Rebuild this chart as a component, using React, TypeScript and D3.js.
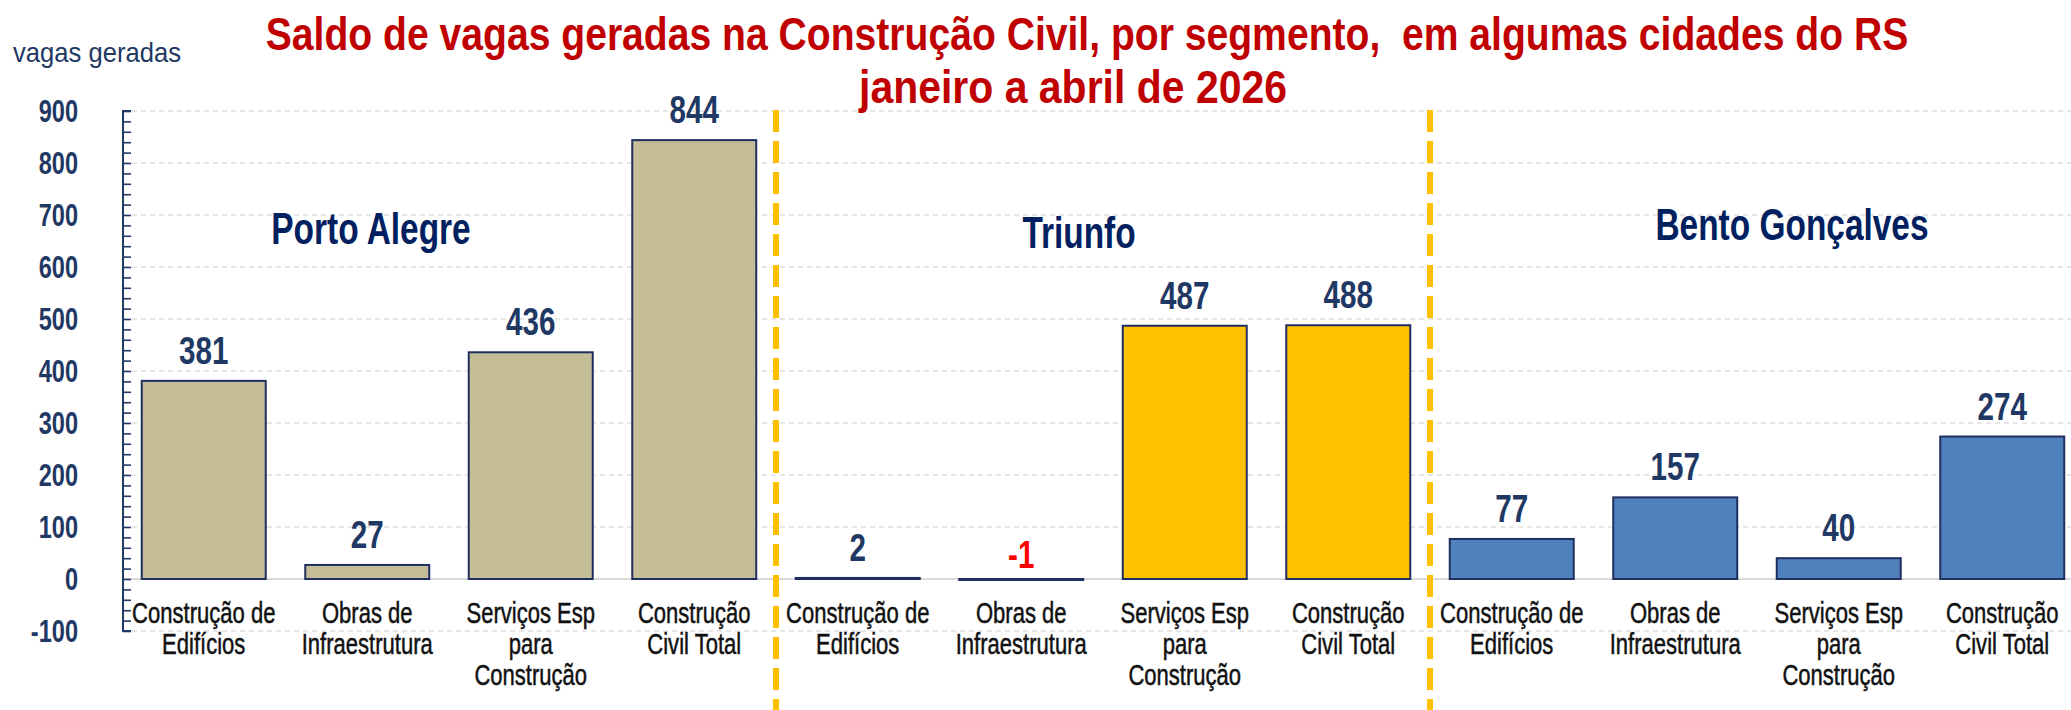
import { useRef, useEffect } from 'react';
import * as d3 from 'd3';

// cities and their segments
const cities = ['Porto Alegre', 'Triunfo', 'Bento Gonçalves'];
const segments = [
  'Construção de|Edifícios',
  'Obras de|Infraestrutura',
  'Serviços Esp|para|Construção',
  'Construção|Civil Total',
];

// saldo de vagas per city (same order as segments)
const portoAlegre = [381, 27, 436, 844];
const triunfo = [2, -1, 487, 488];
const bentoGoncalves = [77, 157, 40, 274];

const cityColors = ['#C4BD97', '#FFC000', '#4F81BD'];
const yTicks = [-100, 0, 100, 200, 300, 400, 500, 600, 700, 800, 900];

const titleLine1 = 'Saldo de vagas geradas na Construção Civil, por segmento,  em algumas cidades do RS';
const titleLine2 = 'janeiro a abril de 2026';
const yLabel = 'vagas geradas';

// Arial-like font squeezed horizontally to look like Arial Narrow
const FONT = "'Liberation Sans', Arial, sans-serif";
const SQUEEZE = 0.76;

function App() {
  const svgRef = useRef<SVGSVGElement>(null);

  useEffect(() => {
    const width = 2071;
    const height = 710;
    const navy = '#1F3864';

    const series = [portoAlegre, triunfo, bentoGoncalves];
    const rows = series.flatMap((vals, ci) =>
      vals.map((v, si) => ({ key: `${ci}-${si}`, city: ci, seg: si, value: v }))
    );

    const svg = d3.select(svgRef.current)
      .attr('width', width)
      .attr('height', height)
      .attr('viewBox', `0 0 ${width} ${height}`);

    //Clear previous content
    svg.selectAll('*').remove();

    svg.append('rect').attr('width', width).attr('height', height).attr('fill', '#fff');

    const x = d3.scaleBand<string>()
      .domain(rows.map(d => d.key))
      .range([122, 2084])
      .paddingInner(0.2416)
      .paddingOuter(0.1208);

    const y = d3.scaleLinear().domain([-100, 900]).range([631, 111]);
    const axisX = 123;
    const cx = (key: string) => x(key)! + x.bandwidth() / 2;

    // gridlines
    svg.append('g')
      .selectAll('line')
      .data(yTicks.filter(t => t !== 0))
      .join('line')
      .attr('x1', axisX)
      .attr('x2', width)
      .attr('y1', d => y(d))
      .attr('y2', d => y(d))
      .attr('stroke', '#CFCFCF')
      .attr('stroke-width', 1.2)
      .attr('stroke-dasharray', '5 4');

    svg.append('line')
      .attr('x1', axisX).attr('x2', width)
      .attr('y1', y(0)).attr('y2', y(0))
      .attr('stroke', '#D9D9D9')
      .attr('stroke-width', 2);

    // y axis with inward ticks every 20
    const axis = d3.axisRight(y)
      .tickValues(d3.range(-100, 901, 20))
      .tickSize(8)
      .tickFormat(() => '');
    const gAxis = svg.append('g').attr('transform', `translate(${axisX},0)`).call(axis);
    gAxis.select('.domain').attr('stroke', navy).attr('stroke-width', 2).attr('d', `M8,${y(900)}H0V${y(-100)}H8`);
    gAxis.selectAll('.tick line').attr('stroke', navy).attr('stroke-width', 1.6);

    svg.append('g')
      .selectAll('text')
      .data(yTicks)
      .join('text')
      .attr('transform', d => `translate(78,${y(d)}) scale(${SQUEEZE},1)`)
      .attr('dy', '0.36em')
      .attr('text-anchor', 'end')
      .attr('font-family', FONT)
      .attr('font-weight', 700)
      .attr('font-size', 31)
      .attr('fill', navy)
      .text(d => d);

    // bars
    svg.append('g')
      .selectAll('rect')
      .data(rows)
      .join('rect')
      .attr('x', d => x(d.key)!)
      .attr('width', x.bandwidth())
      .attr('y', d => y(Math.max(0, d.value)))
      .attr('height', d => Math.max(1, Math.abs(y(d.value) - y(0))))
      .attr('fill', d => cityColors[d.city])
      .attr('stroke', '#1F2F5F')
      .attr('stroke-width', 2);

    // value labels
    svg.append('g')
      .selectAll('text')
      .data(rows)
      .join('text')
      .attr('transform', d =>
        `translate(${cx(d.key)},${d.value < 0 ? y(0) - 11 : y(d.value) - 17}) scale(${SQUEEZE},1)`)
      .attr('text-anchor', 'middle')
      .attr('font-family', FONT)
      .attr('font-weight', 700)
      .attr('font-size', 39)
      .attr('fill', d => (d.value < 0 ? '#FF0000' : navy))
      .text(d => d.value);

    // category labels
    const cat = svg.append('g')
      .selectAll('text')
      .data(rows)
      .join('text')
      .attr('transform', d => `translate(${cx(d.key)},623) scale(${SQUEEZE},1)`)
      .attr('text-anchor', 'middle')
      .attr('font-family', FONT)
      .attr('font-size', 29)
      .attr('fill', '#111')
      .attr('stroke', '#111')
      .attr('stroke-width', 0.5);
    cat.selectAll('tspan')
      .data(d => segments[d.seg].split('|'))
      .join('tspan')
      .attr('x', 0)
      .attr('dy', (_, i) => (i === 0 ? 0 : 31))
      .text(d => d);

    // dashed separators between cities
    const seps = [3, 7].map(i => (x(rows[i].key)! + x(rows[i + 1].key)! + x.bandwidth()) / 2);
    svg.append('g')
      .selectAll('line')
      .data(seps)
      .join('line')
      .attr('x1', d => d).attr('x2', d => d)
      .attr('y1', 110).attr('y2', height)
      .attr('stroke', '#FFC000')
      .attr('stroke-width', 6)
      .attr('stroke-dasharray', '22 9');

    // city titles
    const cityPos = [
      { x: 371, y: 244 },
      { x: 1079, y: 248 },
      { x: 1792, y: 240 },
    ];
    svg.append('g')
      .selectAll('text')
      .data(cities)
      .join('text')
      .attr('transform', (_, i) => `translate(${cityPos[i].x},${cityPos[i].y}) scale(${SQUEEZE},1)`)
      .attr('text-anchor', 'middle')
      .attr('font-family', FONT)
      .attr('font-weight', 700)
      .attr('font-size', 44)
      .attr('fill', '#002060')
      .text(d => d);

    // texts squeezed to the width they take in the original
    const fitted = [
      { text: titleLine1, x: 1087, y: 50, w: 1643, size: 47, weight: 700, fill: '#C00000', anchor: 'middle' },
      { text: titleLine2, x: 1073, y: 103, w: 428, size: 47, weight: 700, fill: '#C00000', anchor: 'middle' },
      { text: yLabel, x: 13, y: 62, w: 168, size: 28, weight: 400, fill: navy, anchor: 'start' },
    ];
    fitted.forEach(t => {
      const node = svg.append('text')
        .attr('text-anchor', t.anchor)
        .attr('font-family', FONT)
        .attr('font-weight', t.weight)
        .attr('font-size', t.size)
        .attr('fill', t.fill)
        .style('white-space', 'pre')
        .text(t.text);
      const len = (node.node() as SVGTextElement).getComputedTextLength() || t.w;
      node.attr('transform', `translate(${t.x},${t.y}) scale(${t.w / len},1)`);
    });
  }, []);

  return <svg ref={svgRef} style={{ position: 'absolute', left: 0, top: 0, display: 'block' }} />;
}

export default App;
